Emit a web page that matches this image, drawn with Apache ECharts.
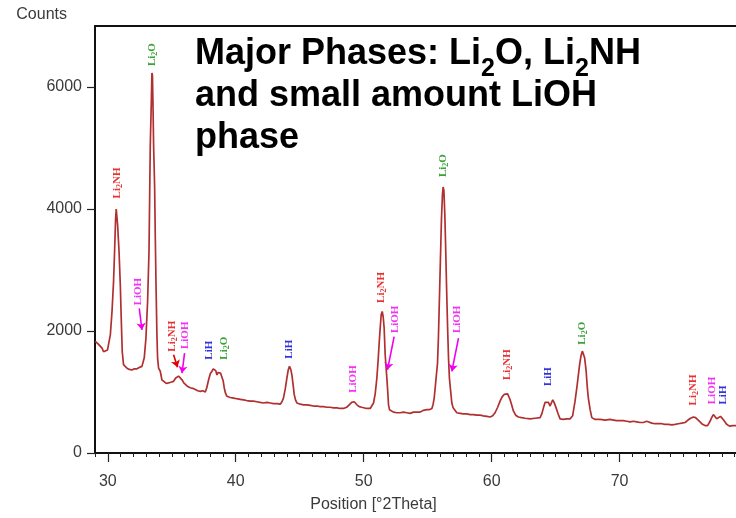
<!DOCTYPE html>
<html>
<head>
<meta charset="utf-8">
<script src="https://cdn.jsdelivr.net/npm/echarts@6/dist/echarts.min.js"></script>
<style>
  html, body { margin: 0; padding: 0; background: #fff; }
  #chart { width: 736px; height: 518px; }
</style>
</head>
<body>
<div id="chart"></div>
<script>
// XRD scan: diffraction angle (°2θ) and measured intensity (counts)
const twoTheta = [
  29.02, 29.28, 29.55, 29.67, 29.80, 29.98, 30.06, 30.20, 30.33, 30.45,
  30.53, 30.61, 30.66, 30.71, 30.77, 30.88, 30.98, 31.05, 31.13, 31.23,
  31.50, 31.68, 31.89, 32.07, 32.28, 32.46, 32.67, 32.85, 32.98, 33.11,
  33.22, 33.27, 33.32, 33.40, 33.45, 33.49, 33.53, 33.58, 33.66, 33.71,
  33.77, 33.84, 33.89, 33.97, 34.10, 34.23, 34.36, 34.57, 34.75, 34.92,
  35.14, 35.31, 35.53, 35.66, 35.80, 35.94, 36.05, 36.25, 36.45, 36.64,
  36.84, 37.03, 37.23, 37.42, 37.62, 37.73, 37.88, 38.01, 38.14, 38.24,
  38.34, 38.44, 38.53, 38.63, 38.71, 38.81, 38.92, 39.02, 39.10, 39.20,
  39.31, 39.57, 39.83, 40.08, 40.35, 40.61, 40.86, 41.13, 41.39, 41.66,
  41.91, 42.17, 42.44, 42.70, 42.95, 43.22, 43.48, 43.61, 43.73, 43.87,
  44.00, 44.10, 44.20, 44.30, 44.39, 44.49, 44.57, 44.67, 44.78, 45.04,
  45.30, 45.56, 45.82, 46.08, 46.34, 46.60, 46.86, 47.13, 47.38, 47.64,
  47.91, 48.16, 48.42, 48.67, 48.83, 48.95, 49.06, 49.16, 49.26, 49.38,
  49.47, 49.65, 49.84, 49.98, 50.23, 50.51, 50.64, 50.77, 50.90, 51.03,
  51.13, 51.21, 51.29, 51.37, 51.45, 51.52, 51.60, 51.68, 51.81, 51.88,
  51.94, 52.02, 52.17, 52.33, 52.59, 52.85, 53.11, 53.37, 53.63, 53.89,
  54.16, 54.41, 54.67, 54.94, 55.12, 55.33, 55.43, 55.51, 55.59, 55.66,
  55.77, 55.84, 55.92, 56.00, 56.08, 56.16, 56.21, 56.27, 56.34, 56.41,
  56.48, 56.56, 56.63, 56.70, 56.80, 56.89, 56.99, 57.28, 57.54, 57.80,
  58.06, 58.32, 58.58, 58.84, 59.10, 59.36, 59.63, 59.88, 60.08, 60.27,
  60.47, 60.66, 60.82, 60.98, 61.13, 61.25, 61.37, 61.45, 61.58, 61.70,
  61.88, 62.09, 62.34, 62.62, 63.01, 63.40, 63.79, 63.92, 64.05, 64.18,
  64.31, 64.44, 64.57, 64.67, 64.78, 64.88, 65.04, 65.20, 65.35, 65.61,
  65.87, 66.13, 66.33, 66.52, 66.66, 66.78, 66.89, 66.99, 67.09, 67.17,
  67.27, 67.38, 67.48, 67.56, 67.70, 67.83, 68.09, 68.48, 68.87, 69.26,
  69.52, 69.78, 70.04, 70.29, 70.56, 70.82, 71.08, 71.34, 71.60, 71.86,
  71.99, 72.12, 72.27, 72.52, 72.77, 73.03, 73.30, 73.55, 73.81, 74.08,
  74.34, 74.59, 74.86, 75.12, 75.35, 75.55, 75.77, 75.94, 76.09, 76.29,
  76.48, 76.68, 76.88, 77.07, 77.20, 77.33, 77.46, 77.59, 77.73, 77.89,
  77.98, 78.13, 78.37, 78.59, 78.83, 79.10
];
const counts = [
  1830, 1780, 1720, 1660, 1650, 1690, 1700, 1940, 2320, 2810,
  3300, 3840, 4000, 3970, 3730, 3300, 2750, 2210, 1660, 1450,
  1390, 1370, 1360, 1380, 1380, 1400, 1420, 1560, 1880, 2480,
  3300, 4170, 5040, 5740, 6230, 6190, 5740, 5040, 4380, 3570,
  2750, 1940, 1560, 1390, 1340, 1200, 1180, 1140, 1150, 1160,
  1175, 1230, 1260, 1240, 1200, 1150, 1120, 1090, 1070, 1060,
  1040, 1020, 1010, 1020, 1000, 1066, 1200, 1300, 1340, 1380,
  1400, 1350, 1280, 1320, 1340, 1310, 1280, 1180, 1070, 980,
  930, 910, 900, 890, 880, 870, 860, 850, 850, 840,
  830, 820, 830, 820, 810, 810, 800, 840, 900, 1050,
  1230, 1360, 1420, 1370, 1280, 1110, 960, 870, 820, 800,
  790, 790, 780, 770, 770, 760, 760, 750, 750, 740,
  740, 730, 730, 750, 780, 790, 830, 850, 840, 810,
  790, 760, 750, 740, 730, 730, 760, 820, 970, 1230,
  1520, 1800, 2050, 2270, 2320, 2240, 2050, 1610, 1230, 1010,
  790, 710, 680, 670, 660, 660, 670, 660, 650, 670,
  670, 670, 700, 710, 710, 730, 800, 900, 1070, 1230,
  1470, 1880, 2530, 3190, 3840, 4250, 4360, 4300, 3920, 3350,
  2700, 2050, 1560, 1230, 1010, 820, 740, 660, 650, 640,
  640, 630, 630, 620, 620, 610, 600, 590, 610, 660,
  750, 850, 920, 960, 980, 970, 910, 870, 780, 690,
  620, 590, 580, 570, 560, 570, 580, 640, 740, 830,
  860, 830, 770, 820, 870, 830, 740, 640, 560, 550,
  560, 560, 610, 850, 1070, 1280, 1470, 1600, 1670, 1650,
  1560, 1360, 1070, 900, 710, 580, 550, 550, 540, 550,
  540, 530, 530, 530, 520, 510, 520, 510, 500, 500,
  530, 520, 490, 490, 480, 480, 480, 470, 470, 460,
  470, 480, 490, 500, 540, 570, 590, 580, 550, 510,
  470, 450, 450, 520, 580, 630, 600, 560, 570, 600,
  580, 540, 470, 440, 450, 450
];

// Axis ticks
const xTickLabels = [30, 40, 50, 60, 70];
const yTickLabels = [0, 2000, 4000, 6000];

// Phase identification: label centre [°2θ, counts] and phase
const peakLabelX = [30.72, 33.45, 32.38, 35.00, 36.05, 37.95, 39.10, 44.18, 49.20, 51.37,
                    52.46, 56.19, 57.28, 61.19, 64.44, 67.05, 75.77, 77.20, 78.06];
const peakLabelY = [4427, 6531, 2646, 1914, 1930, 1685, 1718, 1702, 1212, 2713,
                    2191, 4712, 2191, 1449, 1253, 1963, 1033, 1025, 951];
const peakPhase = ['Li2NH', 'Li2O', 'LiOH', 'Li2NH', 'LiOH', 'LiH', 'Li2O', 'LiH', 'LiOH', 'Li2NH',
                   'LiOH', 'Li2O', 'LiOH', 'Li2NH', 'LiH', 'Li2O', 'Li2NH', 'LiOH', 'LiH'];

// Pointer arrows from a label to its shoulder/peak
const arrowFrom = [[32.46, 2371], [35.14, 1609], [36.00, 1637], [52.38, 1909], [57.41, 1882]];
const arrowTo   = [[32.67, 2017], [35.45, 1404], [35.80, 1310], [51.86, 1364], [56.89, 1338]];
const arrowPhase = ['LiOH', 'Li2NH', 'LiOH', 'LiOH', 'LiOH'];

const phaseColor = { Li2NH: '#e00000', Li2O: '#0a8a0a', LiH: '#0000d0', LiOH: '#f000f0' };
const phaseKey = { Li2NH: 'r', Li2O: 'g', LiH: 'b', LiOH: 'm' };

function phaseRich(name) {
  const k = phaseKey[name];
  // "Li2X" -> Li + subscript 2 + X
  const m = name.match(/^(Li)(2)(.+)$/);
  if (m) return '{' + k + '|' + m[1] + '}{' + k + 's|' + m[2] + '}{' + k + '|' + m[3] + '}';
  return '{' + k + '|' + name + '}';
}

const labelRich = {};
Object.keys(phaseKey).forEach(function (p) {
  const k = phaseKey[p];
  labelRich[k] = { color: phaseColor[p], fontSize: 11, fontWeight: 'bold',
                   fontFamily: 'Liberation Serif, Times New Roman, serif', lineHeight: 12 };
  labelRich[k + 's'] = { color: phaseColor[p], fontSize: 8, fontWeight: 'bold',
                         fontFamily: 'Liberation Serif, Times New Roman, serif',
                         lineHeight: 6, padding: [6, 0, 0, 0] };
});

const scan = twoTheta.map(function (x, i) { return [x, counts[i]]; });
const labels = peakLabelX.map(function (x, i) { return [x, peakLabelY[i], peakPhase[i]]; });
const arrows = arrowFrom.map(function (a, i) {
  return [
    { coord: a, lineStyle: { color: phaseColor[arrowPhase[i]] } },
    { coord: arrowTo[i] }
  ];
});

const tickFont = 'Liberation Sans, Arial, sans-serif';
const plain = function (v) { return String(v); };

const chart = echarts.init(document.getElementById('chart'), null, { renderer: 'canvas' });
chart.setOption({
  animation: false,
  backgroundColor: '#ffffff',
  title: {
    left: 195,
    top: 33,
    padding: 0,
    text: '{t|Major Phases: Li}{s|2}{t|O, Li}{s|2}{t|NH}\n{t|and small amount LiOH}\n{t|phase}',
    textStyle: {
      rich: {
        t: { fontSize: 36, fontWeight: 'bold', fontFamily: 'Liberation Sans, Arial, sans-serif',
             color: '#000', lineHeight: 42 },
        s: { fontSize: 25, fontWeight: 'bold', fontFamily: 'Liberation Sans, Arial, sans-serif',
             color: '#000', lineHeight: 12, padding: [30, 0, 0, 0] }
      }
    }
  },
  grid: { left: 95, right: 0, top: 26, bottom: 63 },
  xAxis: [
    {
      type: 'value', min: 29, max: 79.1, interval: 1,
      name: 'Position [°2Theta]',
      nameLocation: 'middle',
      nameGap: 44,
      nameTextStyle: { fontFamily: tickFont, fontSize: 16, color: '#3a3a3a', padding: [0, 84, 0, 0] },
      axisLine: { show: true, onZero: false, lineStyle: { color: '#111', width: 2 } },
      axisTick: { show: true, length: 4, lineStyle: { color: '#222', width: 1 } },
      axisLabel: { customValues: xTickLabels, formatter: plain, margin: 21,
                   fontFamily: tickFont, fontSize: 16, color: '#3a3a3a' },
      splitLine: { show: false }
    },
    {
      type: 'value', min: 29, max: 79.1, position: 'bottom',
      axisLine: { show: false },
      axisTick: { show: true, customValues: xTickLabels, length: 9, lineStyle: { color: '#222', width: 1.2 } },
      axisLabel: { show: false },
      splitLine: { show: false }
    },
    {
      type: 'value', min: 29, max: 79.1, position: 'top',
      axisLine: { show: true, lineStyle: { color: '#111', width: 2 } },
      axisTick: { show: false },
      axisLabel: { show: false },
      splitLine: { show: false }
    }
  ],
  yAxis: {
    type: 'value', min: 0, max: 7000,
    name: 'Counts',
    nameLocation: 'end',
    nameGap: 3,
    nameTextStyle: { fontFamily: tickFont, fontSize: 16, color: '#3a3a3a', align: 'right',
                     verticalAlign: 'bottom', padding: [0, 28, 0, 0] },
    axisLine: { show: true, onZero: false, lineStyle: { color: '#111', width: 2 } },
    axisTick: { show: true, customValues: yTickLabels, length: 8, lineStyle: { color: '#222', width: 1.2 } },
    axisLabel: { customValues: yTickLabels, formatter: plain, margin: 13,
                 fontFamily: tickFont, fontSize: 16, color: '#3a3a3a' },
    splitLine: { show: false }
  },
  series: [
    {
      type: 'line',
      data: scan,
      showSymbol: false,
      symbol: 'none',
      lineStyle: { color: '#b03030', width: 1.7 },
      z: 2
    },
    {
      type: 'scatter',
      data: labels,
      symbolSize: 0.01,
      itemStyle: { color: 'rgba(0,0,0,0)' },
      silent: true,
      label: {
        show: true,
        position: 'inside',
        rotate: 90,
        formatter: function (p) { return phaseRich(p.value[2]); },
        rich: labelRich
      },
      markLine: {
        silent: true,
        symbol: ['none', 'arrow'],
        symbolSize: 7,
        label: { show: false },
        lineStyle: { type: 'solid', width: 1.6 },
        data: arrows
      },
      z: 3
    }
  ]
});
</script>
</body>
</html>
